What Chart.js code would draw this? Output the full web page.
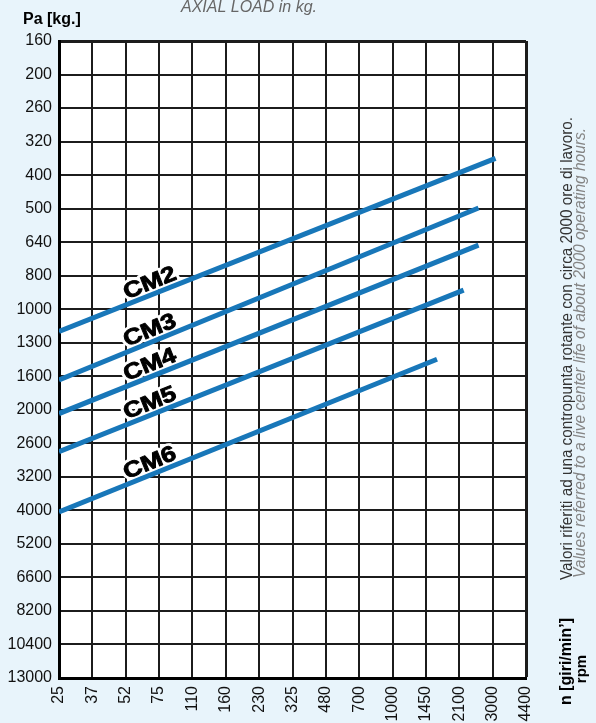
<!DOCTYPE html>
<html>
<head>
<meta charset="utf-8">
<script src="https://cdn.jsdelivr.net/npm/chart.js@4"></script>
<style>
  html, body { margin: 0; padding: 0; background: #e8f4fb; }
  #wrap { width: 596px; height: 723px; position: relative; }
</style>
</head>
<body>
<div id="wrap"><canvas id="c" width="596" height="723"></canvas></div>
<script>
// Axis tick values: speed (rpm) and axial load (kg)
const rpmTicks = [25, 37, 52, 75, 110, 160, 230, 325, 480, 700, 1000, 1450, 2100, 3000, 4400];
const loadTicks = [160, 200, 260, 320, 400, 500, 640, 800, 1000, 1300, 1600, 2000, 2600, 3200, 4000, 5200, 6600, 8200, 10400, 13000];

// Live center models and the end points of each load line
const models = ['CM2', 'CM3', 'CM4', 'CM5', 'CM6'];
const rpmStart = [25, 25, 25, 25, 25];
const rpmEnd = [3100, 2580, 2580, 2200, 1640];
const loadStart = [1190, 1640, 2060, 2740, 4050];
const loadEnd = [358, 498, 653, 881, 1440];
const labelRpm = 71; // where the model name sits along each line

const lineColor = '#1877b9';
const bgColor = '#e8f4fb';
const FONT = '"Liberation Sans", Arial, Helvetica, sans-serif';

// Grid is evenly spaced per tick; place a value between its neighbouring ticks on a log basis
function gridPos(v, ticks) {
  let i = 0;
  while (i < ticks.length - 2 && v > ticks[i + 1]) i++;
  return i + Math.log(v / ticks[i]) / Math.log(ticks[i + 1] / ticks[i]);
}
const gx = v => gridPos(v, rpmTicks);
const gy = v => gridPos(v, loadTicks);

const datasets = models.map((name, i) => ({
  label: name,
  data: [
    { x: gx(rpmStart[i]), y: gy(loadStart[i]) },
    { x: gx(rpmEnd[i]), y: gy(loadEnd[i]) }
  ],
  borderColor: lineColor,
  borderWidth: 5,
  pointRadius: 0,
  borderCapStyle: 'butt',
  tension: 0,
  fill: false
}));

const backgroundPlugin = {
  id: 'backgrounds',
  beforeDraw(chart) {
    const { ctx, chartArea: a } = chart;
    ctx.save();
    ctx.fillStyle = bgColor;
    ctx.fillRect(0, 0, chart.width, chart.height);
    ctx.fillStyle = '#ffffff';
    ctx.fillRect(a.left, a.top, a.right - a.left, a.bottom - a.top);
    ctx.restore();
  }
};

const modelLabels = {
  id: 'modelLabels',
  beforeDatasetsDraw(chart) {
    const { ctx } = chart;
    const xs = chart.scales.x, ys = chart.scales.y;
    models.forEach((name, i) => {
      const x0 = xs.getPixelForValue(gx(rpmStart[i])), y0 = ys.getPixelForValue(gy(loadStart[i]));
      const x1 = xs.getPixelForValue(gx(rpmEnd[i])), y1 = ys.getPixelForValue(gy(loadEnd[i]));
      const ang = Math.atan2(y1 - y0, x1 - x0);
      const xl = xs.getPixelForValue(gx(labelRpm));
      const yl = y0 + (xl - x0) / (x1 - x0) * (y1 - y0);
      ctx.save();
      ctx.translate(xl, yl);
      ctx.rotate(ang);
      ctx.font = 'bold 22px ' + FONT;
      const w = ctx.measureText(name).width;
      ctx.scale(55 / w, 1);
      ctx.textAlign = 'center';
      ctx.textBaseline = 'alphabetic';
      ctx.lineJoin = 'round';
      ctx.strokeStyle = '#ffffff';
      ctx.lineWidth = 6;
      ctx.strokeText(name, 0, -5);
      ctx.fillStyle = '#000000';
      ctx.fillText(name, 0, -5);
      ctx.strokeStyle = '#000000';
      ctx.lineWidth = 0.9;
      ctx.strokeText(name, 0, -5);
      ctx.restore();
    });
  }
};

function fitText(ctx, text, x, y, len) {
  const w = ctx.measureText(text).width;
  ctx.save();
  ctx.translate(x, y);
  ctx.rotate(-Math.PI / 2);
  ctx.scale(len / w, 1);
  ctx.fillText(text, 0, 0);
  ctx.restore();
}

const annotations = {
  id: 'annotations',
  afterDraw(chart) {
    const { ctx } = chart;
    ctx.save();
    // header texts
    ctx.fillStyle = '#666666';
    ctx.font = 'italic 16px ' + FONT;
    ctx.textAlign = 'center';
    ctx.textBaseline = 'alphabetic';
    ctx.fillText('AXIAL LOAD in kg.', 249, 12);

    ctx.fillStyle = '#000000';
    ctx.font = 'bold 16px ' + FONT;
    ctx.textAlign = 'left';
    ctx.fillText('Pa [kg.]', 23, 24);

    // side notes
    ctx.textAlign = 'left';
    ctx.fillStyle = '#333333';
    ctx.font = '16px ' + FONT;
    fitText(ctx, 'Valori riferiti ad una contropunta rotante con circa 2000 ore di lavoro.', 572, 580, 463);
    ctx.fillStyle = '#858585';
    ctx.font = 'italic 16px ' + FONT;
    fitText(ctx, 'Values referred to a live center life of about 2000 operating hours.', 585, 578, 450);

    // speed axis title
    ctx.fillStyle = '#000000';
    ctx.font = 'bold 16px ' + FONT;
    ctx.save();
    ctx.translate(571, 618);
    ctx.rotate(-Math.PI / 2);
    ctx.textAlign = 'right';
    ctx.fillText('n [giri/min’]', 0, 0);
    ctx.restore();
    ctx.save();
    ctx.font = 'bold 15px ' + FONT;
    ctx.translate(586, 669);
    ctx.rotate(-Math.PI / 2);
    ctx.textAlign = 'center';
    ctx.fillText('rpm', 0, 0);
    ctx.restore();
    ctx.restore();
  }
};

Chart.defaults.font.family = FONT;

new Chart(document.getElementById('c'), {
  type: 'line',
  data: { datasets },
  options: {
    responsive: false,
    devicePixelRatio: 1,
    animation: false,
    parsing: false,
    layout: { padding: { top: 41, right: 70, left: 0, bottom: 0 } },
    plugins: { legend: { display: false }, tooltip: { enabled: false } },
    scales: {
      x: {
        type: 'linear',
        position: 'bottom',
        min: 0,
        max: rpmTicks.length - 1,
        afterFit: s => { s.height = 45; },
        border: { display: true, color: '#000000', width: 3 },
        grid: {
          color: '#1c1c1c',
          lineWidth: c => (c.tick && c.tick.value === rpmTicks.length - 1) ? 3 : 2,
          drawTicks: false
        },
        ticks: {
          stepSize: 1,
          autoSkip: false,
          minRotation: 90,
          maxRotation: 90,
          padding: 8,
          color: '#111111',
          font: { size: 16 },
          callback: v => rpmTicks[v]
        }
      },
      y: {
        type: 'linear',
        position: 'left',
        reverse: true,
        min: 0,
        max: loadTicks.length - 1,
        afterFit: s => { s.width = 59; },
        border: { display: true, color: '#000000', width: 3 },
        grid: {
          color: '#1c1c1c',
          lineWidth: c => (c.tick && c.tick.value === 0) ? 3 : 2,
          drawTicks: false
        },
        ticks: {
          stepSize: 1,
          autoSkip: false,
          padding: 7,
          color: '#111111',
          font: { size: 16 },
          callback: v => loadTicks[v]
        }
      }
    }
  },
  plugins: [backgroundPlugin, modelLabels, annotations]
});
</script>
</body>
</html>
